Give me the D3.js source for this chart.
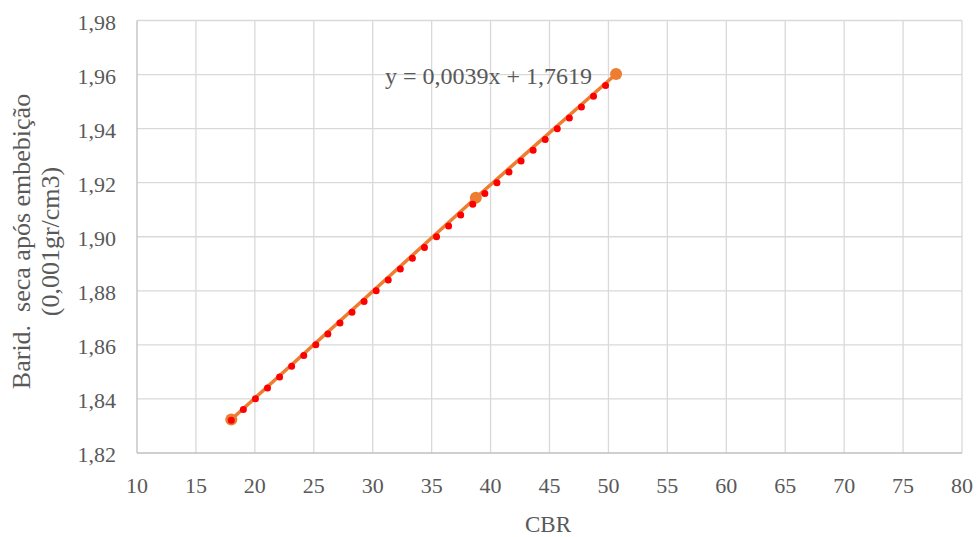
<!DOCTYPE html>
<html><head><meta charset="utf-8">
<script src="https://cdn.jsdelivr.net/npm/d3@7"></script>
<style>body{margin:0;background:#fff}svg{display:block}
text{font-family:"Liberation Serif","Tinos","DejaVu Serif",serif}</style>
</head><body><svg id="c" width="978" height="537"></svg>
<script>
const cbr = [18.0, 38.75, 50.65];
const density = [1.8324, 1.9144, 1.9602];
const xTicks = [10,15,20,25,30,35,40,45,50,55,60,65,70,75,80];
const yTicks = [1.82,1.84,1.86,1.88,1.90,1.92,1.94,1.96,1.98];
const trendSlope = 0.0039, trendIntercept = 1.7619;
const trendLabel = "y = 0,0039x + 1,7619";
const xTitle = "CBR";
const yTitle = ["Barid.  seca após embebição", "(0,001gr/cm3)"];

const svg = d3.select("#c");
const m = {l:137, r:962, t:20.5, b:453};
const x = d3.scaleLinear().domain([10,80]).range([m.l,m.r]);
const y = d3.scaleLinear().domain([1.82,1.98]).range([m.b,m.t]);
const fmt = d => d3.format(".2f")(d).replace(".", ",");

// grid
svg.append("g").selectAll("line.v").data(xTicks.slice(1)).join("line")
  .attr("x1",d=>x(d)).attr("x2",d=>x(d)).attr("y1",m.t).attr("y2",m.b)
  .attr("stroke","#d9d9d9").attr("stroke-width",1.3);
svg.append("g").selectAll("line.h").data(yTicks.slice(1)).join("line")
  .attr("x1",m.l).attr("x2",m.r).attr("y1",d=>y(d)).attr("y2",d=>y(d))
  .attr("stroke","#d9d9d9").attr("stroke-width",1.3);
svg.append("line").attr("x1",m.l).attr("x2",m.r).attr("y1",m.b).attr("y2",m.b).attr("stroke","#bfbfbf").attr("stroke-width",1.3);
svg.append("line").attr("x1",m.l).attr("x2",m.l).attr("y1",m.t).attr("y2",m.b).attr("stroke","#bfbfbf").attr("stroke-width",1.3);

// tick labels
svg.append("g").selectAll("text").data(xTicks).join("text")
  .attr("x",d=>x(d)).attr("y",492.5).attr("text-anchor","middle")
  .attr("font-size",22).attr("fill","#595959").text(d=>d);
svg.append("g").selectAll("text").data(yTicks).join("text")
  .attr("x",116).attr("y",d=>y(d)+9).attr("text-anchor","end")
  .attr("font-size",22).attr("fill","#595959").text(fmt);

// titles
svg.append("text").attr("x",548).attr("y",532).attr("text-anchor","middle")
  .attr("font-size",23).attr("fill","#595959").text(xTitle);
svg.append("g").attr("transform",`translate(30,241.5) rotate(-90)`)
  .selectAll("text").data(yTitle).join("text")
  .attr("x",0).attr("y",(d,i)=>i*29).attr("text-anchor","middle")
  .attr("font-size",26).attr("fill","#595959").style("white-space","pre").text(d=>d);

// series line
const pts = cbr.map((c,i)=>[c,density[i]]);
svg.append("path").datum(pts)
  .attr("d",d3.line().x(d=>x(d[0])).y(d=>y(d[1])))
  .attr("fill","none").attr("stroke","#ED7D31").attr("stroke-width",3.5);
svg.append("g").selectAll("circle").data(pts).join("circle")
  .attr("cx",d=>x(d[0])).attr("cy",d=>y(d[1])).attr("r",6).attr("fill","#ED7D31");

// trendline
const x0 = d3.min(cbr), x1 = d3.max(cbr);
svg.append("line")
  .attr("x1",x(x0)).attr("y1",y(trendSlope*x0+trendIntercept))
  .attr("x2",x(x1)).attr("y2",y(trendSlope*x1+trendIntercept))
  .attr("stroke","#FF0000").attr("stroke-width",7).attr("stroke-linecap","round")
  .attr("stroke-dasharray","0 16.2");

svg.append("text").attr("x",385).attr("y",84)
  .attr("font-size",24).attr("fill","#595959").text(trendLabel);
</script>
</body></html>
